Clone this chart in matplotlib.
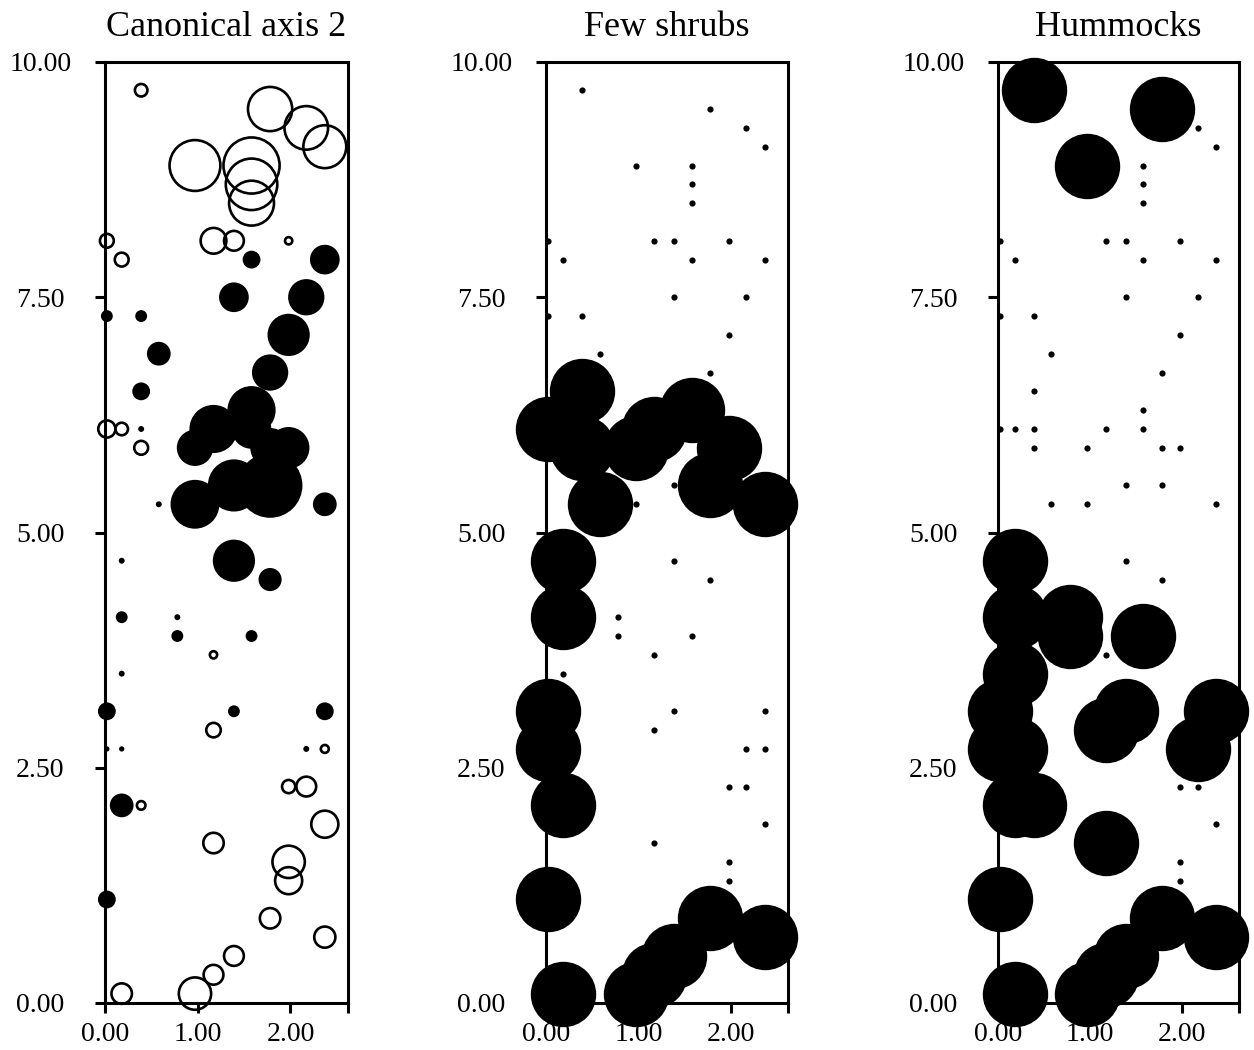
"""
Canonical axis 2 scores and presence of few shrubs / hummocks, drawn on the
sample grid as bubble maps (three panels).
"""

import matplotlib

matplotlib.use("Agg")
import matplotlib.pyplot as plt
import numpy as np

# sample positions (same grid in every panel)
x_pos = [
    0.39, 1.78, 2.17, 2.37, 0.97, 1.58, 1.58, 1.58,
    0.02, 1.17, 1.39, 1.98, 0.18, 1.58, 2.37, 1.39,
    2.17, 0.02, 0.39, 1.98, 0.58, 1.78, 0.39, 0.02,
    0.18, 0.39, 0.39, 0.97, 1.17, 1.58, 1.58, 1.78,
    1.98, 1.39, 1.78, 0.97, 0.58, 2.37,
    1.39, 0.18, 1.78, 0.18, 0.78, 0.78, 1.58, 1.17,
    0.18, 0.02, 1.39, 2.37, 1.17, 0.02, 0.18, 2.17,
    2.37, 1.98, 2.17, 0.18, 0.39, 2.37, 1.17, 1.98,
    1.98, 0.02, 1.78, 2.37, 1.39, 1.17, 0.18, 0.97,
]
y_pos = [
    9.7, 9.5, 9.3, 9.1, 8.9, 8.9, 8.7, 8.5,
    8.1, 8.1, 8.1, 8.1, 7.9, 7.9, 7.9, 7.5,
    7.5, 7.3, 7.3, 7.1, 6.9, 6.7, 6.5, 6.1,
    6.1, 6.1, 5.9, 5.9, 6.1, 6.3, 6.1, 5.9,
    5.9, 5.5, 5.5, 5.3, 5.3, 5.3,
    4.7, 4.7, 4.5, 4.1, 4.1, 3.9, 3.9, 3.7,
    3.5, 3.1, 3.1, 3.1, 2.9, 2.7, 2.7, 2.7,
    2.7, 2.3, 2.3, 2.1, 2.1, 1.9, 1.7, 1.5,
    1.3, 1.1, 0.9, 0.7, 0.5, 0.3, 0.1, 0.1,
]

# canonical axis 2 score (filled = positive, open = negative)
canonical_2 = [
    -0.23, -0.71, -0.70, -0.69, -0.81, -0.89, -0.82, -0.72,
    -0.25, -0.43, -0.34, -0.15, -0.25, 0.27, 0.45, 0.45,
    0.55, 0.18, 0.18, 0.64, 0.36, 0.55, 0.27, -0.30,
    -0.23, 0.09, -0.25, 0.55, 0.73, 0.73, 0.60, 0.60,
    0.63, 0.79, 0.98, 0.74, 0.09, 0.36,
    0.64, 0.09, 0.35, 0.18, 0.09, 0.18, 0.18, -0.15,
    0.09, 0.27, 0.18, 0.27, -0.26, 0.08, 0.08, 0.09,
    -0.16, -0.24, -0.34, 0.36, -0.17, -0.45, -0.35, -0.53,
    -0.45, 0.27, -0.35, -0.36, -0.34, -0.34, -0.35, -0.53,
]

# presence (1) / absence (0)
few_shrubs = [
    0, 0, 0, 0, 0, 0, 0, 0,
    0, 0, 0, 0, 0, 0, 0, 0,
    0, 0, 0, 0, 0, 0, 1, 1,
    0, 0, 1, 1, 1, 1, 0, 0,
    1, 0, 1, 0, 1, 1,
    0, 1, 0, 1, 0, 0, 0, 0,
    0, 1, 0, 0, 0, 1, 0, 0,
    0, 0, 0, 1, 0, 0, 0, 0,
    0, 1, 1, 1, 1, 1, 1, 1,
]
hummocks = [
    1, 1, 0, 0, 1, 0, 0, 0,
    0, 0, 0, 0, 0, 0, 0, 0,
    0, 0, 0, 0, 0, 0, 0, 0,
    0, 0, 0, 0, 0, 0, 0, 0,
    0, 0, 0, 0, 0, 0,
    0, 1, 0, 1, 1, 1, 1, 0,
    1, 1, 1, 1, 1, 1, 1, 1,
    0, 0, 0, 1, 1, 0, 1, 0,
    0, 1, 1, 1, 1, 1, 1, 1,
]

titles = ["Canonical axis 2", "Few shrubs", "Hummocks"]
y_ticks = [0.0, 2.5, 5.0, 7.5, 10.0]
x_ticks = [0.0, 1.0, 2.0]
X_MAX = 2.62

DPI = 100
PT = 72 / DPI            # points per pixel
MAX_R_PX = 33            # bubble radius (px) for |score| = 1
RING_LW = 1.9
PRESENT_D_PX = 65.4
ABSENT_D_PX = 6.2

FONT = ["Liberation Serif", "DejaVu Serif"]


def style_axes(ax, title):
    ax.set_xlim(0, X_MAX)
    ax.set_ylim(0, 10)
    for side in ["left", "right", "top", "bottom"]:
        ax.spines[side].set_linewidth(2.2)
    ax.set_xticks(x_ticks + [X_MAX])
    ax.set_xticklabels([f"{v:.2f}" for v in x_ticks] + [""], fontfamily=FONT, fontsize=20)
    ax.set_yticks(y_ticks)
    ax.set_yticklabels([f"{v:.2f}" for v in y_ticks], fontfamily=FONT, fontsize=20)
    ax.tick_params(axis="x", length=7, width=2.2, pad=7)
    ax.tick_params(axis="y", length=7, width=2.2, pad=39.5)
    for lab in ax.get_yticklabels():
        lab.set_horizontalalignment("center")
    ax.set_title(title, fontfamily=FONT, fontsize=26, pad=19)


def plot_scores(ax, x, y, score):
    d_pt = 2 * MAX_R_PX * np.abs(score) * PT
    neg = score < 0
    ax.scatter(x[neg], y[neg], s=(d_pt[neg] - RING_LW) ** 2, facecolors="none",
               edgecolors="black", linewidths=RING_LW, clip_on=False, zorder=3)
    ax.scatter(x[~neg], y[~neg], s=d_pt[~neg] ** 2, color="black",
               linewidths=0, clip_on=False, zorder=3)


def plot_presence(ax, x, y, present):
    on = present == 1
    ax.scatter(x[~on], y[~on], s=(ABSENT_D_PX * PT) ** 2, color="black",
               linewidths=0, clip_on=False, zorder=3)
    ax.scatter(x[on], y[on], s=(PRESENT_D_PX * PT) ** 2, color="black",
               linewidths=0, clip_on=False, zorder=3)


def main():
    x = np.array(x_pos)
    y = np.array(y_pos)

    fig = plt.figure(figsize=(12.54, 10.5), dpi=DPI)
    lefts = [105, 546, 998]
    widths = [243, 242, 241]
    axes = [fig.add_axes([l / 1254, 47 / 1050, w / 1254, 941 / 1050])
            for l, w in zip(lefts, widths)]

    plot_scores(axes[0], x, y, np.array(canonical_2))
    plot_presence(axes[1], x, y, np.array(few_shrubs))
    plot_presence(axes[2], x, y, np.array(hummocks))

    for ax, title in zip(axes, titles):
        style_axes(ax, title)

    fig.savefig("out.png", dpi=DPI)
    plt.close(fig)


if __name__ == "__main__":
    main()
